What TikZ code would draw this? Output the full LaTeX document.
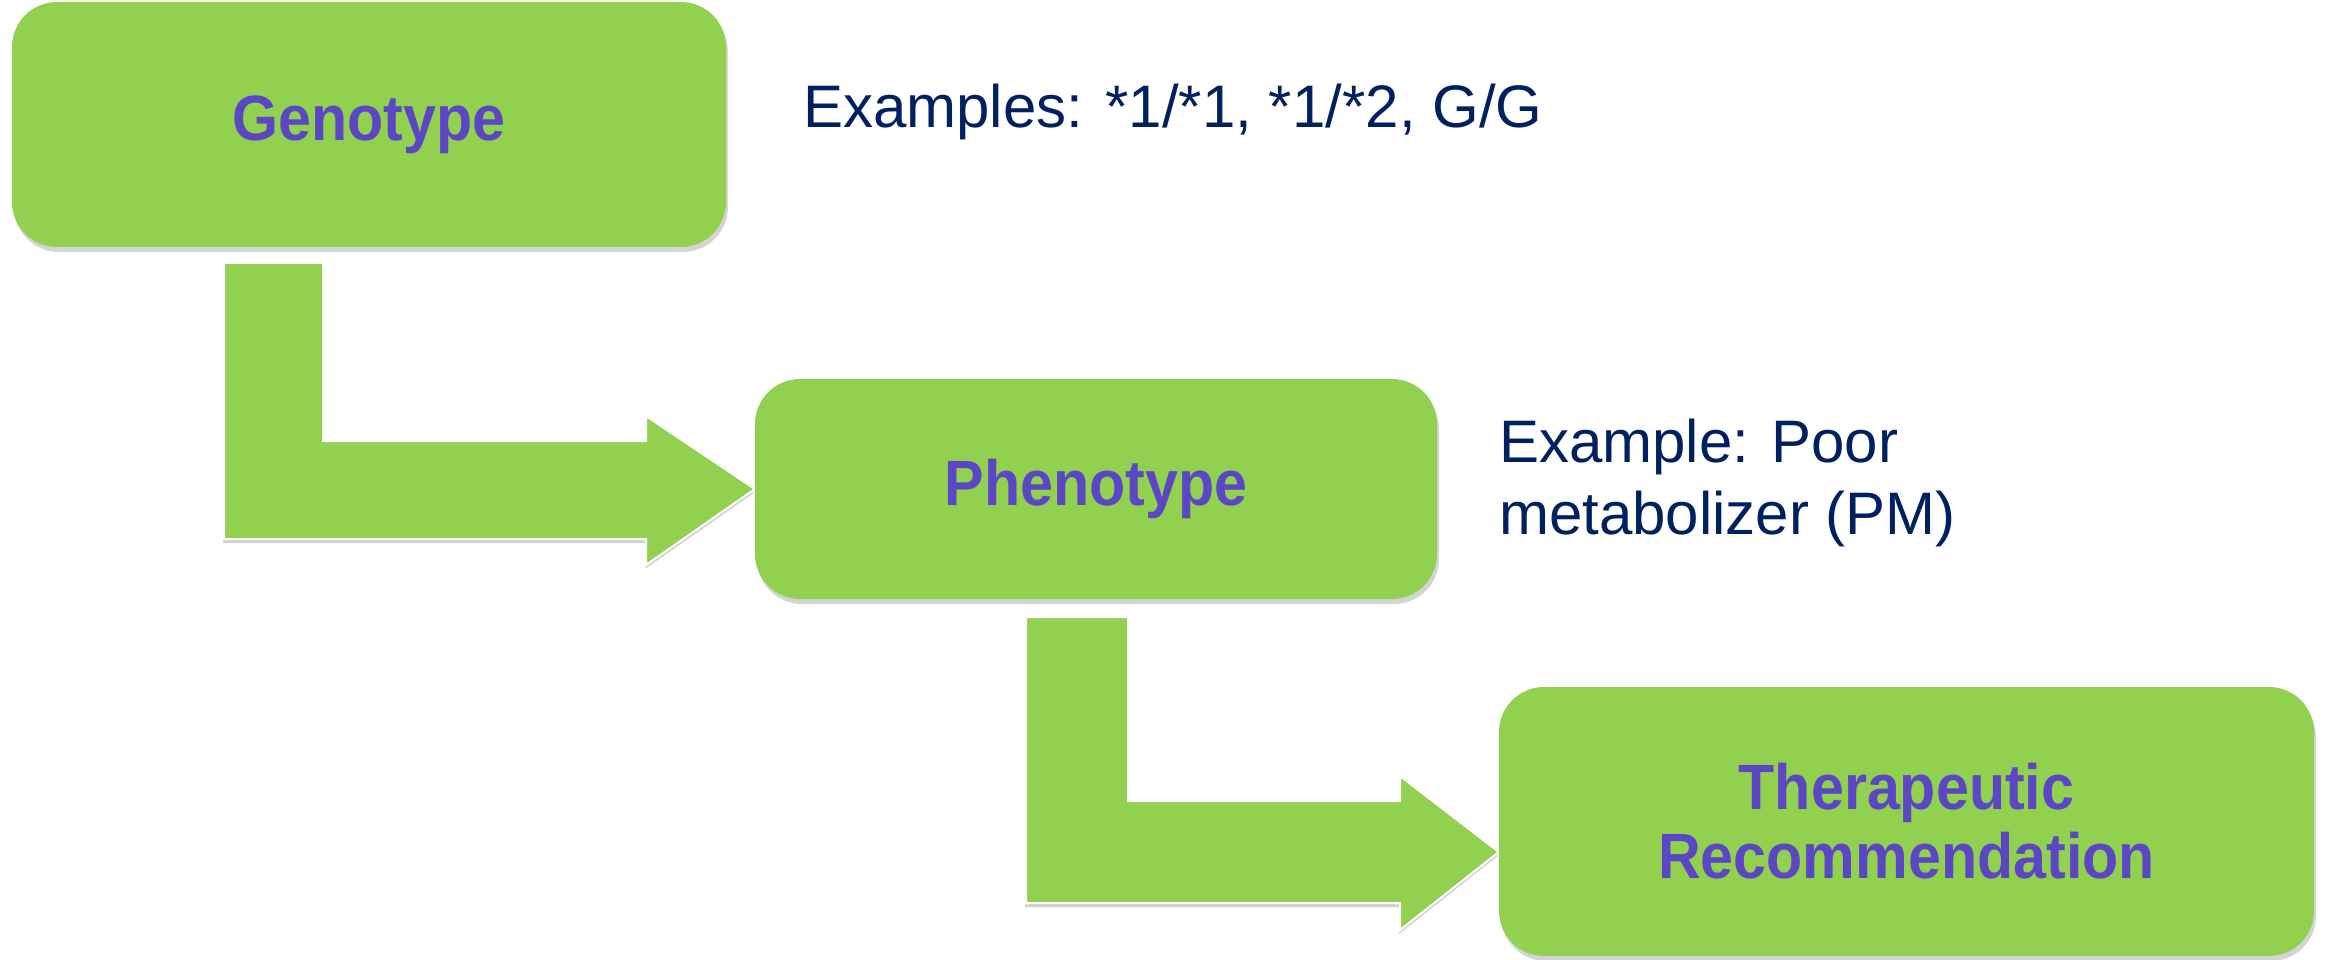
\documentclass[tikz,border=0pt]{standalone}
\usepackage{fontspec}
\setmainfont{Liberation Sans}
\newfontfamily\boxfont[FakeStretch=0.925]{Liberation Sans}
\usetikzlibrary{shadows,calc}
\definecolor{boxgreen}{HTML}{92D050}
\definecolor{txtpurple}{HTML}{5B47C4}
\definecolor{navytxt}{HTML}{002060}
\pgfdeclarelayer{bg}
\pgfsetlayers{bg,main}
\tikzset{
  stagebox/.style={fill=boxgreen, rounded corners=45pt, inner sep=0pt,
    text=txtpurple, align=center,
    font=\boxfont\bfseries\fontsize{64}{69}\selectfont,
    drop shadow={shadow xshift=2pt, shadow yshift=-5pt, opacity=0.28, fill=black!60}},
  bentarrow/.style={fill=boxgreen, draw=white, line width=2pt, line join=miter,
    drop shadow={shadow xshift=-1pt, shadow yshift=-4pt, opacity=0.3, fill=black!60}},
  note/.style={text=navytxt, inner sep=0pt, align=left,
    font=\fontsize{60}{72}\selectfont}
}
\begin{document}
\begin{tikzpicture}[x=1pt,y=-1pt]
\useasboundingbox (0,0) rectangle (2335,960);
\node[stagebox, minimum width=714pt, minimum height=245pt] (g) at (369,124.5) {Genotype};
\node[stagebox, minimum width=682pt, minimum height=220pt] (p) at (1096,489) {Phenotype};
\node[stagebox, minimum width=815pt, minimum height=269pt] (t) at (1906.5,821.5) {Therapeutic\\Recommendation};
\node[note, anchor=base west] (ex1) at (803,128) {Examples: *1/*1, *1/*2, G/G};
\node[note, anchor=base west] (ex2) at (1499,534) {Example: Poor\\metabolizer (PM)};
\coordinate (tip1) at (p.west);
\coordinate (tip2) at (t.west |- 0,852);
\begin{pgfonlayer}{bg}
\draw[bentarrow] (224,263) -- (323,263) -- (323,441) -- (646,441) -- (646,416)
  -- (tip1) -- (646,565) -- (646,539) -- (224,539) -- cycle;
\draw[bentarrow] (1026,617) -- (1128,617) -- (1128,801) -- (1400,801) -- (1400,776)
  -- (tip2) -- (1400,930) -- (1400,903) -- (1026,903) -- cycle;
\end{pgfonlayer}
\end{tikzpicture}
\end{document}
